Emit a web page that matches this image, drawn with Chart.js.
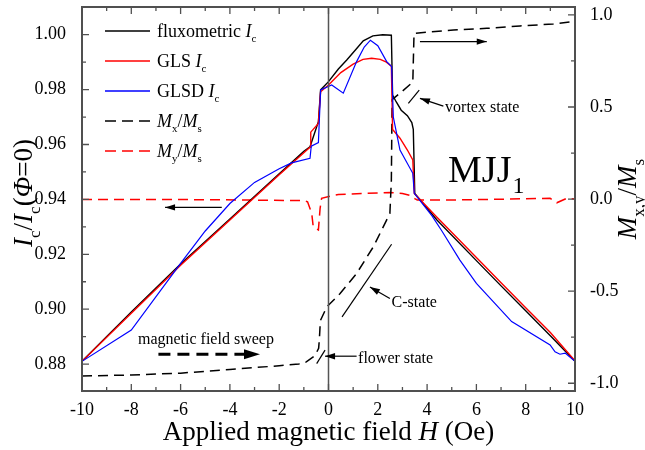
<!DOCTYPE html>
<html>
<head>
<meta charset="utf-8">
<script src="https://cdn.jsdelivr.net/npm/chart.js@4.4.1/dist/chart.umd.min.js"></script>
<style>
  html, body { margin: 0; padding: 0; background: #fff; }
  canvas { display: block; }
</style>
</head>
<body>
<canvas id="chart" width="645" height="450"></canvas>
<script>
// tick values for the three axes
const fieldTicks = [-10, -8, -6, -4, -2, 0, 2, 4, 6, 8, 10];
const icTicks = [0.88, 0.90, 0.92, 0.94, 0.96, 0.98, 1.00];
const magTicks = [-1.0, -0.5, 0.0, 0.5, 1.0];

// fluxometric Ic
const fluxH = [-10, -8, -6, -4, -2, -1, -0.75, -0.41, -0.32, 0, 0.4, 0.74, 1.1, 1.41, 1.8, 2.2, 2.55, 2.6, 2.75, 2.95, 3.2, 3.38, 3.44, 3.5, 4.4, 6, 7, 8, 9, 10];
const fluxIc = [0.881, 0.899, 0.9165, 0.9329, 0.9493, 0.9575, 0.9592, 0.9683, 0.9799, 0.9829, 0.9875, 0.9908, 0.9945, 0.9978, 0.9996, 1.0, 0.9998, 0.978, 0.9755, 0.9725, 0.9705, 0.968, 0.9655, 0.9422, 0.9325, 0.9177, 0.9085, 0.8994, 0.8903, 0.881];

// GLS Ic
const glsH = [-10, -8, -6, -4, -2, -1, -0.75, -0.72, -0.41, -0.32, 0, 0.5, 1.0, 1.4, 1.75, 2.1, 2.35, 2.55, 2.6, 2.9, 3.2, 3.42, 3.48, 4.4, 6, 7, 8, 9, 10];
const glsIc = [0.881, 0.8985, 0.916, 0.9325, 0.949, 0.957, 0.959, 0.9645, 0.9677, 0.9792, 0.9817, 0.9862, 0.9893, 0.991, 0.9914, 0.991, 0.990, 0.9885, 0.9655, 0.9623, 0.958, 0.9544, 0.9422, 0.9335, 0.9188, 0.9096, 0.9005, 0.8915, 0.8812];

// GLSD Ic
const glsdH = [-10, -8, -6, -5, -4, -3, -2, -1.5, -0.75, -0.7, -0.41, -0.32, 0.13, 0.6, 1.14, 1.45, 1.7, 2.0, 2.36, 2.56, 2.63, 2.9, 3.42, 3.48, 4.2, 4.6, 5.33, 6.0, 7.43, 8.99, 9.19, 9.39, 9.6, 10];
const glsdIc = [0.881, 0.8924, 0.9167, 0.9285, 0.9385, 0.9462, 0.9512, 0.9533, 0.955, 0.9594, 0.9607, 0.9799, 0.9817, 0.9787, 0.9902, 0.9955, 0.998, 0.996, 0.9902, 0.9884, 0.970, 0.958, 0.9495, 0.9422, 0.934, 0.9285, 0.9179, 0.9094, 0.8955, 0.887, 0.8845, 0.8836, 0.884, 0.881];

// Mx/Ms (right axis)
const mxH = [-10, -8, -6, -4, -2, -1.2, -0.9, -0.55, -0.4, -0.37, -0.33, -0.07, 0.47, 1.14, 1.82, 2.49, 2.55, 2.58, 2.9, 3.42, 3.47, 5.07, 6.42, 7.77, 9.12, 10];
const mxVal = [-0.961, -0.955, -0.945, -0.925, -0.905, -0.895, -0.884, -0.85, -0.81, -0.76, -0.66, -0.585, -0.513, -0.404, -0.259, -0.078, 0.1, 0.54, 0.575, 0.635, 0.90, 0.918, 0.927, 0.94, 0.951, 0.965];

// My/Ms (right axis)
const myH = [-10, -5, -1.0, -0.85, -0.68, -0.62, -0.41, -0.34, -0.28, 0.06, 0.4, 1.41, 2.49, 3.0, 3.31, 3.5, 3.6, 5, 8.99, 9.26, 9.66, 10];
const myVal = [-0.002, -0.003, -0.008, -0.015, -0.078, -0.15, -0.168, -0.05, 0.004, 0.016, 0.025, 0.031, 0.036, 0.03, 0.02, 0.002, -0.005, -0.005, 0.004, -0.02, 0.004, 0.0];

const serif = '"Liberation Serif", "Times New Roman", serif';

function pts(xs, ys) {
  return xs.map((x, i) => ({ x: x, y: ys[i] }));
}

// annotation arrows, slashes and notes, in (H, Mx,y) units
const arrows = [
  { from: [-4.33, -0.045], to: [-6.63, -0.045] },
  { from: [3.71, 0.855], to: [6.42, 0.855] },
  { from: [4.66, 0.505], to: [3.71, 0.547] },
  { from: [2.49, -0.54], to: [1.68, -0.477] },
  { from: [1.14, -0.853], to: [-0.14, -0.853] }
];
const slashes = [
  { from: [3.24, 0.52], to: [3.68, 0.592] },
  { from: [-0.48, -0.893], to: [-0.14, -0.82] },
  { from: [0.55, -0.64], to: [2.56, -0.245] }
];
const notes = [
  { text: 'vortex state', at: [4.73, 0.474] },
  { text: 'C-state', at: [2.56, -0.587] },
  { text: 'flower state', at: [1.2, -0.89] },
  { text: 'magnetic field sweep', at: [-7.73, -0.788] }
];
const sweep = { from: [-6.9, -0.842], to: [-2.78, -0.842] };

// rich text: parts with italic / subscript flags
function partFont(p, size) {
  const s = p.sub ? Math.round(size * 0.62) : size;
  return (p.i ? 'italic ' : '') + s + 'px ' + serif;
}
function richWidth(ctx, parts, size) {
  let w = 0;
  parts.forEach(p => { ctx.font = partFont(p, size); w += ctx.measureText(p.t).width; });
  return w;
}
function drawRich(ctx, parts, x, y, size, align) {
  ctx.textAlign = 'left';
  ctx.textBaseline = 'alphabetic';
  let cx = align === 'center' ? x - richWidth(ctx, parts, size) / 2 : x;
  parts.forEach(p => {
    ctx.font = partFont(p, size);
    ctx.fillText(p.t, cx, p.sub ? y + size * 0.28 : y);
    cx += ctx.measureText(p.t).width;
  });
}

const legendItems = [
  { color: '#000', dash: [], parts: [{ t: 'fluxometric ' }, { t: 'I', i: true }, { t: 'c', sub: true }] },
  { color: '#f00', dash: [], parts: [{ t: 'GLS ' }, { t: 'I', i: true }, { t: 'c', sub: true }] },
  { color: '#00f', dash: [], parts: [{ t: 'GLSD ' }, { t: 'I', i: true }, { t: 'c', sub: true }] },
  { color: '#000', dash: [11, 6], parts: [{ t: 'M', i: true }, { t: 'x', sub: true }, { t: '/' }, { t: 'M', i: true }, { t: 's', sub: true }] },
  { color: '#f00', dash: [11, 6], parts: [{ t: 'M', i: true }, { t: 'y', sub: true }, { t: '/' }, { t: 'M', i: true }, { t: 's', sub: true }] }
];

function arrowHead(ctx, x1, y1, x2, y2, len, half) {
  const a = Math.atan2(y2 - y1, x2 - x1);
  ctx.beginPath();
  ctx.moveTo(x2, y2);
  ctx.lineTo(x2 - len * Math.cos(a) + half * Math.sin(a), y2 - len * Math.sin(a) - half * Math.cos(a));
  ctx.lineTo(x2 - len * Math.cos(a) - half * Math.sin(a), y2 - len * Math.sin(a) + half * Math.cos(a));
  ctx.closePath();
  ctx.fill();
}

const decor = {
  id: 'decor',
  afterDatasetsDraw(chart) {
    const ctx = chart.ctx;
    const a = chart.chartArea;
    const sx = chart.scales.x, sl = chart.scales.y, sr = chart.scales.y2;
    const X = v => sx.getPixelForValue(v);
    const YR = v => sr.getPixelForValue(v);
    ctx.save();

    // vertical line at H = 0
    ctx.strokeStyle = '#555';
    ctx.lineWidth = 1.5;
    ctx.beginPath();
    ctx.moveTo(X(0), a.top);
    ctx.lineTo(X(0), a.bottom);
    ctx.stroke();

    // frame
    ctx.strokeStyle = '#505050';
    ctx.lineWidth = 2;
    ctx.strokeRect(a.left, a.top, a.right - a.left, a.bottom - a.top);

    // inward ticks, major and minor
    ctx.lineWidth = 1.3;
    ctx.beginPath();
    for (let h = -10; h <= 10; h++) {
      const len = h % 2 === 0 ? 7 : 4;
      const x = X(h);
      ctx.moveTo(x, a.bottom); ctx.lineTo(x, a.bottom - len);
      ctx.moveTo(x, a.top); ctx.lineTo(x, a.top + len);
    }
    for (let k = 0; k < icTicks.length; k++) {
      const y = sl.getPixelForValue(icTicks[k]);
      ctx.moveTo(a.left, y); ctx.lineTo(a.left + 7, y);
      if (k > 0) {
        const ym = sl.getPixelForValue((icTicks[k] + icTicks[k - 1]) / 2);
        ctx.moveTo(a.left, ym); ctx.lineTo(a.left + 4, ym);
      }
    }
    for (let k = 0; k < magTicks.length; k++) {
      const y = YR(magTicks[k]);
      ctx.moveTo(a.right, y); ctx.lineTo(a.right - 7, y);
      if (k > 0) {
        const ym = YR((magTicks[k] + magTicks[k - 1]) / 2);
        ctx.moveTo(a.right, ym); ctx.lineTo(a.right - 4, ym);
      }
    }
    ctx.stroke();

    // legend
    legendItems.forEach((it, k) => {
      const y = a.top + 24 + k * 30;
      ctx.strokeStyle = it.color;
      ctx.lineWidth = 1.5;
      ctx.setLineDash(it.dash);
      ctx.beginPath();
      ctx.moveTo(a.left + 23, y);
      ctx.lineTo(a.left + 68, y);
      ctx.stroke();
      ctx.setLineDash([]);
      ctx.fillStyle = '#000';
      drawRich(ctx, it.parts, a.left + 75, y + 6, 18, 'left');
    });

    // arrows
    ctx.strokeStyle = '#000';
    ctx.fillStyle = '#000';
    ctx.lineWidth = 1.2;
    arrows.forEach(ar => {
      const x1 = X(ar.from[0]), y1 = YR(ar.from[1]), x2 = X(ar.to[0]), y2 = YR(ar.to[1]);
      ctx.beginPath();
      ctx.moveTo(x1, y1);
      ctx.lineTo(x2, y2);
      ctx.stroke();
      arrowHead(ctx, x1, y1, x2, y2, 10, 3.2);
    });
    slashes.forEach(s => {
      ctx.beginPath();
      ctx.moveTo(X(s.from[0]), YR(s.from[1]));
      ctx.lineTo(X(s.to[0]), YR(s.to[1]));
      ctx.stroke();
    });

    // thick dashed sweep arrow
    {
      const x1 = X(sweep.from[0]), y1 = YR(sweep.from[1]), x2 = X(sweep.to[0]), y2 = YR(sweep.to[1]);
      ctx.lineWidth = 3;
      ctx.setLineDash([12, 7]);
      ctx.beginPath();
      ctx.moveTo(x1, y1);
      ctx.lineTo(x2 - 12, y2);
      ctx.stroke();
      ctx.setLineDash([]);
      arrowHead(ctx, x1, y1, x2, y2, 16, 5);
    }

    // notes
    ctx.textAlign = 'left';
    ctx.textBaseline = 'alphabetic';
    ctx.font = '16px ' + serif;
    notes.forEach(n => ctx.fillText(n.text, X(n.at[0]), YR(n.at[1])));

    // sample label
    ctx.font = '38px ' + serif;
    const mx = X(4.85), my = YR(0.094);
    ctx.fillText('MJJ', mx, my);
    const mw = ctx.measureText('MJJ').width;
    ctx.font = '24px ' + serif;
    ctx.fillText('1', mx + mw + 1, my + 11);

    // axis titles
    drawRich(ctx, [{ t: 'Applied magnetic field ' }, { t: 'H', i: true }, { t: ' (Oe)' }], (a.left + a.right) / 2, 440, 27, 'center');

    ctx.save();
    ctx.translate(32, (a.top + a.bottom) / 2 - 6);
    ctx.rotate(-Math.PI / 2);
    drawRich(ctx, [{ t: 'I', i: true }, { t: 'c', sub: true }, { t: '/' }, { t: 'I', i: true }, { t: 'c', sub: true }, { t: '(' }, { t: 'Φ', i: true }, { t: '=0)' }], 0, 0, 27, 'center');
    ctx.restore();

    ctx.save();
    ctx.translate(636, (a.top + a.bottom) / 2);
    ctx.rotate(-Math.PI / 2);
    drawRich(ctx, [{ t: 'M', i: true }, { t: 'x,y', sub: true }, { t: '/' }, { t: 'M', i: true }, { t: 's', sub: true }], 0, 0, 27, 'center');
    ctx.restore();

    ctx.restore();
  }
};

function fixedWidth(w) {
  return s => { s.width = w; s.paddingTop = 0; s.paddingBottom = 0; };
}

const tickFont = { family: serif, size: 18 };

new Chart(document.getElementById('chart'), {
  type: 'line',
  data: {
    datasets: [
      { label: 'fluxometric Ic', data: pts(fluxH, fluxIc), yAxisID: 'y', borderColor: '#000', borderWidth: 1.4, order: 3 },
      { label: 'GLS Ic', data: pts(glsH, glsIc), yAxisID: 'y', borderColor: '#f00', borderWidth: 1.4, order: 2 },
      { label: 'GLSD Ic', data: pts(glsdH, glsdIc), yAxisID: 'y', borderColor: '#00f', borderWidth: 1.2, order: 1 },
      { label: 'Mx/Ms', data: pts(mxH, mxVal), yAxisID: 'y2', borderColor: '#000', borderWidth: 1.5, borderDash: [10, 6], order: 4 },
      { label: 'My/Ms', data: pts(myH, myVal), yAxisID: 'y2', borderColor: '#f00', borderWidth: 1.5, borderDash: [10, 6], order: 5 }
    ]
  },
  options: {
    responsive: false,
    animation: false,
    devicePixelRatio: 1,
    layout: { padding: { top: 7, left: 0, right: 0, bottom: 0 } },
    elements: { point: { radius: 0 }, line: { tension: 0, fill: false } },
    plugins: { legend: { display: false }, tooltip: { enabled: false } },
    scales: {
      x: {
        type: 'linear',
        min: -10,
        max: 10,
        grid: { display: false },
        border: { display: false },
        afterBuildTicks: s => { s.ticks = fieldTicks.map(v => ({ value: v })); },
        afterFit: s => { s.height = 59; s.paddingLeft = 0; s.paddingRight = 0; },
        ticks: { font: tickFont, color: '#000', padding: 0, maxRotation: 0, callback: v => String(v) }
      },
      y: {
        position: 'left',
        min: 0.8702,
        max: 1.0101,
        grid: { display: false },
        border: { display: false },
        afterBuildTicks: s => { s.ticks = icTicks.map(v => ({ value: v })); },
        afterFit: fixedWidth(82),
        ticks: { font: tickFont, color: '#000', padding: 8, callback: v => v.toFixed(2) }
      },
      y2: {
        position: 'right',
        min: -1.042,
        max: 1.043,
        grid: { display: false },
        border: { display: false },
        afterBuildTicks: s => { s.ticks = magTicks.map(v => ({ value: v })); },
        afterFit: fixedWidth(70),
        ticks: { font: tickFont, color: '#000', padding: 7, callback: v => v.toFixed(1) }
      }
    }
  },
  plugins: [decor]
});
</script>
</body>
</html>
